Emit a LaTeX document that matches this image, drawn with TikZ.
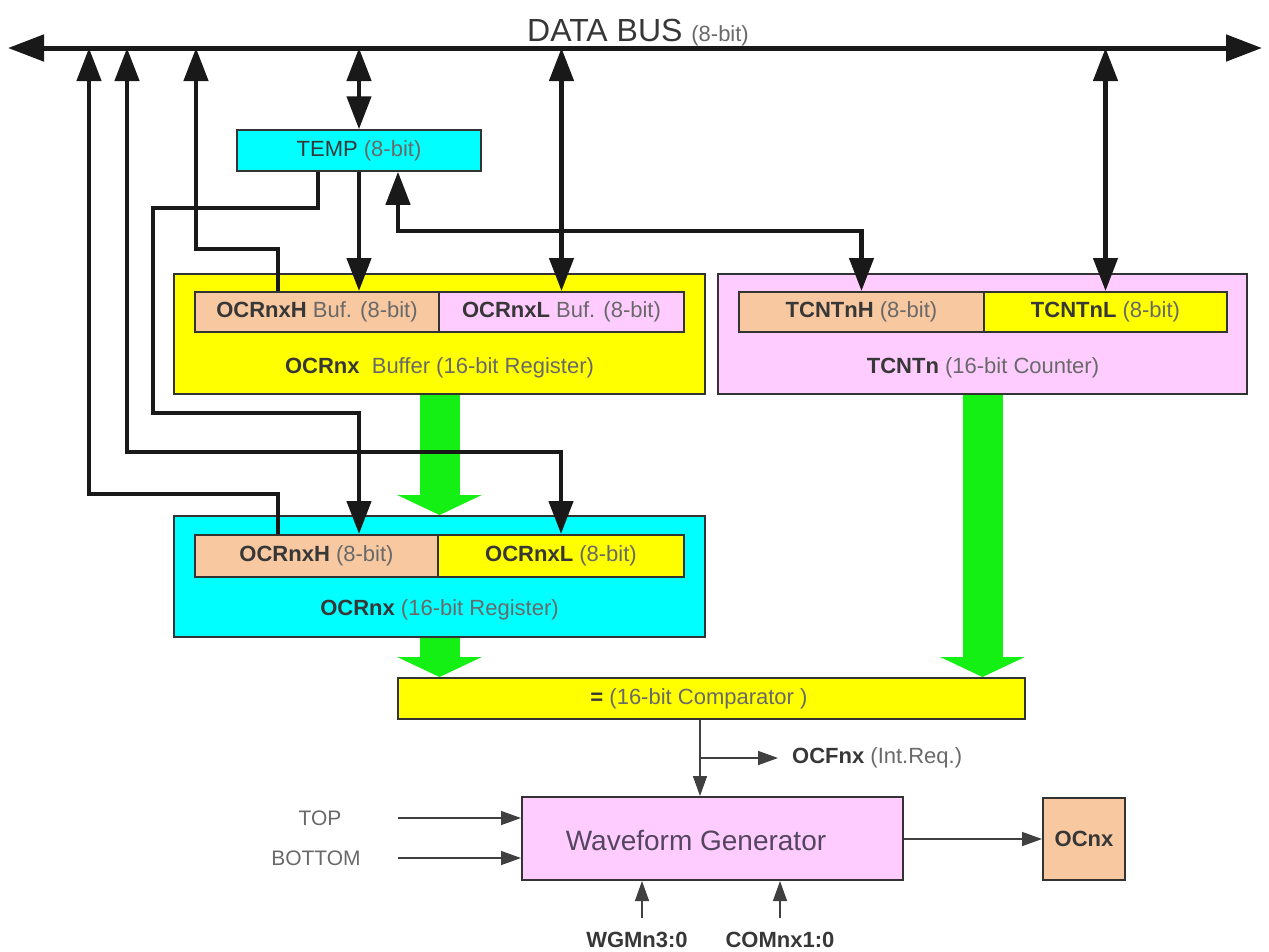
\documentclass[tikz,border=0pt]{standalone}
\usepackage{fontspec}
\setmainfont{Liberation Sans}
\usepackage{tikz}
\usetikzlibrary{arrows.meta,backgrounds}

\definecolor{regyellow}{RGB}{255,255,0}
\definecolor{regcyan}{RGB}{0,255,255}
\definecolor{regpink}{RGB}{255,204,255}
\definecolor{regpeach}{RGB}{248,200,160}
\definecolor{flowgreen}{RGB}{20,240,20}
\definecolor{txtdark}{RGB}{55,55,55}
\definecolor{txtgray}{RGB}{105,105,105}
\definecolor{txtplum}{RGB}{85,70,95}

\newcommand{\grey}[1]{{\color{txtgray}#1}}

\begin{document}
\begin{tikzpicture}[x=1pt,y=-1pt,
    >={Triangle[length=33pt,width=24pt]},
    box/.style={draw=black!80,line width=2pt,inner sep=0pt},
    lbl/.style={inner sep=0pt,text=txtdark,font=\fontsize{22}{26}\selectfont},
    wire/.style={line width=4.5pt,draw=black!90},
    busline/.style={line width=5pt,draw=black!90,{Triangle[length=36pt,width=26pt]}-{Triangle[length=36pt,width=26pt]}},
    sigwire/.style={line width=1.5pt,draw=black!75,>={Triangle[length=20pt,width=14pt]}},
    flow/.style={draw=flowgreen,line width=40pt,-{Triangle[length=20pt,width=84pt]}}]
  \useasboundingbox (0,0) rectangle (1269,951);

  % data bus
  \coordinate (busL) at (8,48);
  \coordinate (busR) at (1262,48);
  \draw[busline] (busL) -- (busR);
  \node[lbl,anchor=base west,font=\fontsize{32}{36}\selectfont] (bustxt) at (527,41)
    {DATA BUS {\fontsize{22}{26}\selectfont\grey{(8-bit)}}};
  \coordinate (tapA) at (89,48);
  \coordinate (tapB) at (127,48);
  \coordinate (tapC) at (196,48);

  % registers
  \node[box,lbl,fill=regcyan,line width=1.5pt,minimum width=244pt,minimum height=41pt] (temp) at (359,150.5)
    {TEMP \grey{(8-bit)}};

  \node[box,fill=regyellow,minimum width=531pt,minimum height=120pt] (bufreg) at (439.5,334) {};
  \node[box,lbl,fill=regpeach,minimum width=244pt,minimum height=40pt] (bufH) at (317,312)
    {\textbf{OCRnxH} \grey{Buf. (8-bit)}};
  \node[box,lbl,fill=regpink,minimum width=245pt,minimum height=40pt] (bufL) at (561.5,312)
    {\textbf{OCRnxL} \grey{Buf. (8-bit)}};
  \node[lbl] (buflbl) at (439.5,368) {\textbf{OCRnx}\ \ \grey{Buffer (16-bit Register)}};

  \node[box,fill=regpink,minimum width=529pt,minimum height=120pt] (tcnt) at (982.5,334) {};
  \node[box,lbl,fill=regpeach,minimum width=245pt,minimum height=40pt] (tcntH) at (861.5,312)
    {\textbf{TCNTnH} \grey{(8-bit)}};
  \node[box,lbl,fill=regyellow,minimum width=243pt,minimum height=40pt] (tcntL) at (1105.5,312)
    {\textbf{TCNTnL} \grey{(8-bit)}};
  \node[lbl] (tcntlbl) at (983,368) {\textbf{TCNTn} \grey{(16-bit Counter)}};

  \node[box,fill=regcyan,minimum width=531pt,minimum height=121pt] (ocr) at (439.5,576.5) {};
  \node[box,lbl,fill=regpeach,minimum width=243pt,minimum height=42pt] (ocrH) at (316.5,556)
    {\textbf{OCRnxH} \grey{(8-bit)}};
  \node[box,lbl,fill=regyellow,minimum width=246pt,minimum height=42pt] (ocrL) at (561,556)
    {\textbf{OCRnxL} \grey{(8-bit)}};
  \node[lbl] (ocrlbl) at (439.5,610) {\textbf{OCRnx} \grey{(16-bit Register)}};

  \node[box,fill=regyellow,minimum width=627pt,minimum height=41pt] (comp) at (711.5,698.5) {};
  \node[lbl] (complbl) at (699,699) {\textbf{=} \grey{(16-bit Comparator )}};

  \node[box,fill=regpink,minimum width=381pt,minimum height=83pt] (wg) at (712.5,838.5) {};
  \node[lbl,text=txtplum,font=\fontsize{28}{32}\selectfont] (wglbl) at (696,840) {Waveform Generator};
  \node[box,lbl,fill=regpeach,minimum width=82pt,minimum height=82pt] (ocnx) at (1084,839) {\textbf{OCnx}};

  \node[lbl,anchor=west] (ocf) at (792,758) {\textbf{OCFnx} \grey{(Int.Req.)}};
  \node[lbl,text=txtgray,font=\fontsize{21}{24}\selectfont] (toplbl) at (320,818) {TOP};
  \node[lbl,text=txtgray,font=\fontsize{21}{24}\selectfont] (botlbl) at (316,858) {BOTTOM};
  \node[lbl] (wgm) at (637,940) {\textbf{WGMn3:0}};
  \node[lbl] (com) at (780,940) {\textbf{COMnx1:0}};

  % wide transfer paths
  \begin{pgfonlayer}{background}
    \draw[flow] (bufreg.south) -- (ocr.north);
    \draw[flow] (ocr.south) -- (ocr.south |- comp.north);
    \draw[flow] (tcnt.south) -- (tcnt.south |- comp.north);
  \end{pgfonlayer}

  % bus connections
  \draw[wire,<->] (temp.north |- busL) -- (temp.north);
  \draw[wire,->] (temp.south) -- (temp.south |- bufH.north);
  \draw[wire,<->] (bufL.north |- busL) -- (bufL.north);
  \draw[wire,<->] (tcntL.north |- busL) -- (tcntL.north);
  \draw[wire,<->] ([xshift=39pt]temp.south) |- ([yshift=60pt]tcntH.north) -- (tcntH.north);
  \draw[wire,->] ([xshift=-39pt]bufH.north) -- ++(0,-42) -| (tapC);
  \coordinate (laneT) at (153,413);
  \draw[wire,->] ([xshift=-41pt]temp.south) -- ++(0,36) -| (laneT) -| (temp.south |- ocrH.north);
  \draw[wire,<->] (tapB) |- ([yshift=82pt]ocrL.north) -- (ocrL.north);
  \draw[wire,->] ([xshift=-38.5pt]ocrH.north) -- ++(0,-40) -| (tapA);

  % control signals
  \coordinate (split) at (700,758);
  \draw[sigwire,->] (split |- comp.south) -- (split |- wg.north);
  \draw[sigwire,->] (split) -- ([xshift=-14pt]ocf.west);
  \coordinate (topin) at (398,818);
  \coordinate (botin) at (398,858);
  \draw[sigwire,->] (topin) -- (topin -| wg.west);
  \draw[sigwire,->] (botin) -- (botin -| wg.west);
  \coordinate (wgmin) at (642,918);
  \coordinate (comin) at (780,918);
  \draw[sigwire,->] (wgmin) -- (wgmin |- wg.south);
  \draw[sigwire,->] (comin) -- (comin |- wg.south);
  \draw[sigwire,->] (wg.east |- ocnx.west) -- (ocnx.west);
\end{tikzpicture}
\end{document}
